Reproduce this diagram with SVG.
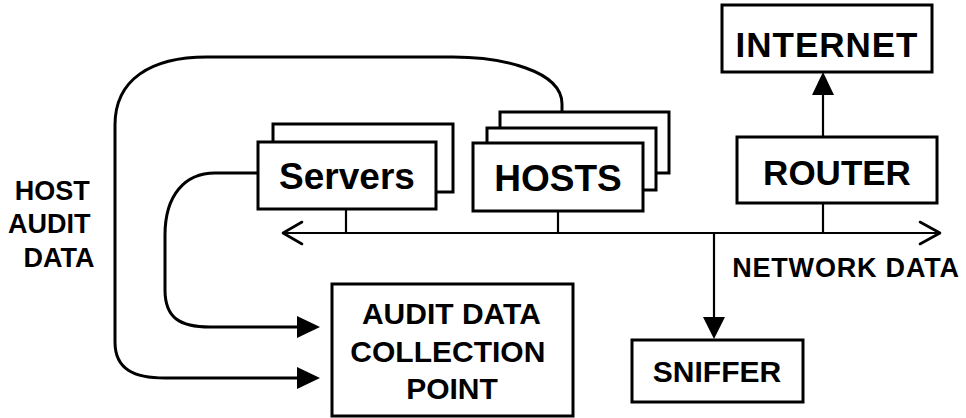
<svg xmlns="http://www.w3.org/2000/svg" width="966" height="418" viewBox="0 0 966 418">
  <style>
    .box { fill: #fff; stroke: #000; stroke-width: 3; }
    .line { fill: none; stroke: #000; stroke-width: 2.2; }
    .curve { fill: none; stroke: #000; stroke-width: 3; }
    .head { fill: #000; stroke: none; }
    .open { fill: none; stroke: #000; stroke-width: 2.6; stroke-linecap: round; stroke-linejoin: round; }
    text { font-family: "Liberation Sans", Arial, Helvetica, sans-serif; font-weight: bold; fill: #000; }
  </style>
  <rect width="966" height="418" fill="#fff"/>

  <!-- connectors -->
  <g id="connectors">
    <!-- network bus with open heads at both ends -->
    <line class="line" x1="283" y1="233" x2="940" y2="233"/>
    <polyline class="open" points="302,222 283,233 302,244"/>
    <polyline class="open" points="920,222 940,233 920,244"/>
    <!-- drops from servers, hosts and router -->
    <line class="line" x1="346" y1="209" x2="346" y2="233"/>
    <line class="line" x1="558" y1="211" x2="558" y2="233"/>
    <line class="line" x1="823" y1="203" x2="823" y2="233"/>
    <!-- router to internet -->
    <line class="line" x1="823" y1="137" x2="823" y2="94"/>
    <polygon class="head" points="812,95 834,95 823,72"/>
    <!-- bus to sniffer -->
    <line class="line" x1="714" y1="233" x2="714" y2="318"/>
    <polygon class="head" points="703,317 725,317 714,339"/>
    <!-- host audit data: hosts to collection point -->
    <path class="curve" d="M562,111 L562,104 C562,70 500,57 453,57 L207,57 C150,57 115,80 115,125 L115,342 C115,370 135,378 165,378 L298,378"/>
    <polygon class="head" points="297,367 297,389 320,378"/>
    <!-- servers to collection point -->
    <path class="curve" d="M258,173 L215,173 C185,173 165,195 165,235 L165,290 C165,318 180,327 210,327 L298,327"/>
    <polygon class="head" points="297,316 297,338 320,327"/>
  </g>

  <g id="servers">
    <rect class="box" x="273" y="124" width="180" height="68"/>
    <rect class="box" x="258" y="142" width="178" height="67"/>
    <text x="347" y="189" font-size="37" text-anchor="middle">Servers</text>
  </g>

  <g id="hosts">
    <rect class="box" x="500" y="112" width="169" height="61"/>
    <rect class="box" x="487" y="128" width="169" height="62"/>
    <rect class="box" x="473" y="143" width="170" height="68"/>
    <text x="558" y="191" font-size="37" text-anchor="middle">HOSTS</text>
  </g>

  <g id="router">
    <rect class="box" x="737" y="137" width="200" height="66"/>
    <text x="837" y="185" font-size="35" text-anchor="middle">ROUTER</text>
  </g>

  <g id="internet">
    <rect class="box" x="722" y="5" width="210" height="67"/>
    <text x="827" y="57" font-size="35" letter-spacing="1" text-anchor="middle">INTERNET</text>
  </g>

  <g id="collection-point">
    <rect class="box" x="332" y="284" width="241" height="132"/>
    <text font-size="30" text-anchor="middle">
      <tspan x="455" y="324">AUDIT DATA</tspan>
      <tspan x="452" y="362">COLLECTION</tspan>
      <tspan x="452" y="399">POINT</tspan>
    </text>
  </g>

  <g id="sniffer">
    <rect class="box" x="632" y="340" width="171" height="62"/>
    <text x="717" y="382" font-size="30" text-anchor="middle">SNIFFER</text>
  </g>

  <g id="labels">
    <text x="846" y="277" font-size="27" letter-spacing="0.8" text-anchor="middle">NETWORK DATA</text>
    <text font-size="27" text-anchor="middle">
      <tspan x="56" y="200">HOST</tspan>
      <tspan x="53" y="233">AUDIT</tspan>
      <tspan x="59" y="267">DATA</tspan>
    </text>
  </g>
</svg>
